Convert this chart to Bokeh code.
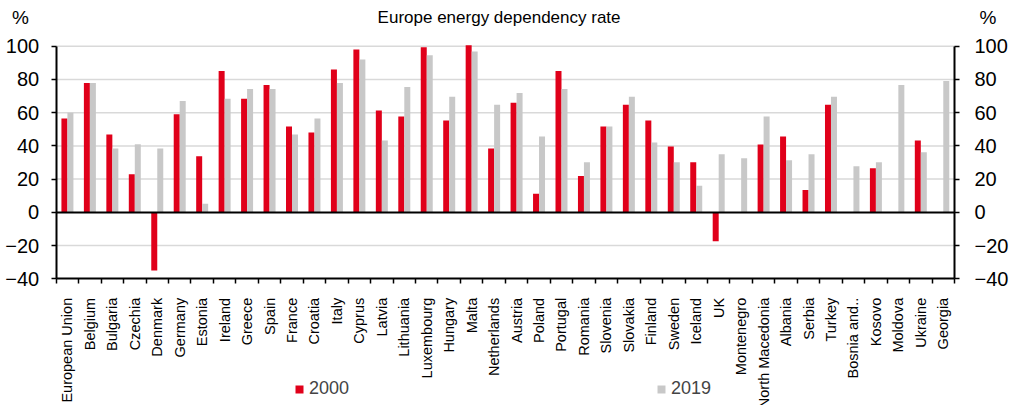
import math

from bokeh.embed import file_html
from bokeh.models import (ColumnDataSource, FixedTicker, Label, Legend,
                          LegendItem, LinearAxis, Range1d)
from bokeh.plotting import figure
from bokeh.resources import INLINE
from bokeh.transform import dodge

nan = float("nan")

countries = [
    "European Union", "Belgium", "Bulgaria", "Czechia", "Denmark", "Germany",
    "Estonia", "Ireland", "Greece", "Spain", "France", "Croatia", "Italy",
    "Cyprus", "Latvia", "Lithuania", "Luxembourg", "Hungary", "Malta",
    "Netherlands", "Austria", "Poland", "Portugal", "Romania", "Slovenia",
    "Slovakia", "Finland", "Sweden", "Iceland", "UK", "Montenegro",
    "North Macedonia", "Albania", "Serbia", "Turkey", "Bosnia and..",
    "Kosovo", "Moldova", "Ukraine", "Georgia",
]

rate_2000 = [
    56.5, 77.8, 46.9, 23.0, -35.0, 59.0, 33.7, 85.0, 68.3, 76.6,
    51.7, 48.1, 86.0, 98.0, 61.3, 57.7, 99.4, 55.3, 100.6, 38.5,
    65.9, 11.2, 85.0, 21.8, 51.7, 64.7, 55.3, 39.7, 30.1, -17.4,
    nan, 40.9, 45.7, 13.4, 64.7, nan, 26.5, nan, 43.3, nan,
]

rate_2019 = [
    60.0, 77.8, 38.5, 41.0, 38.5, 67.0, 5.2, 68.3, 74.3, 74.3,
    46.9, 56.5, 77.8, 92.0, 43.3, 75.4, 94.6, 69.5, 96.8, 64.7,
    71.9, 45.7, 74.3, 30.1, 51.7, 69.5, 42.1, 30.1, 16.0, 34.9,
    32.5, 57.7, 31.3, 34.9, 69.5, 27.7, 30.1, 76.6, 36.1, 79.0,
]

y_ticks = [-40, -20, 0, 20, 40, 60, 80, 100]

RED = "#E0001A"
GREY = "#C8C8C8"
GRID = "#D9D9D9"
FONT = "Liberation Sans"

W, H = 1019, 405
# pixel box of the value area inside the canvas
BOX_L, BOX_R, BOX_T, BOX_B = 55.7, 954.0, 45.7, 278.3

n = len(countries)
x_lo, x_hi = -0.5, n - 0.5
y_lo, y_hi = y_ticks[0], y_ticks[-1]

# the frame fills the whole canvas; axes sit at fixed data locations
px_x = (BOX_R - BOX_L) / (x_hi - x_lo)
px_y = (BOX_B - BOX_T) / (y_hi - y_lo)
x_range = Range1d(x_lo - BOX_L / px_x, x_hi + (W - BOX_R) / px_x)
y_range = Range1d(y_lo - (H - BOX_B) / px_y, y_hi + BOX_T / px_y)

positions = list(range(n))
source = ColumnDataSource(dict(x=positions, y2000=rate_2000, y2019=rate_2019))

p = figure(
    width=W, height=H,
    output_backend="svg", toolbar_location=None,
    x_range=x_range, y_range=y_range,
    min_border=0, min_border_left=0, min_border_right=0,
    min_border_top=0, min_border_bottom=0,
)
p.outline_line_color = None
p.background_fill_color = "white"
p.border_fill_color = "white"
p.grid.visible = False

# horizontal grid lines across the value area only
grid_y = [t for t in y_ticks if t not in (0, y_lo)]
p.segment(x0=[x_lo] * len(grid_y), x1=[x_hi] * len(grid_y), y0=grid_y, y1=grid_y,
          line_color=GRID, line_width=1.5, level="underlay")

bar_w = 0.267
r2000 = p.vbar(x=dodge("x", -bar_w / 2), top="y2000", bottom=0, width=bar_w,
               source=source, fill_color=RED, line_color=None)
r2019 = p.vbar(x=dodge("x", bar_w / 2), top="y2019", bottom=0, width=bar_w,
               source=source, fill_color=GREY, line_color=None)

# x axis: labels centred on each country, ticks between countries
xa = p.xaxis[0]
xa.fixed_location = y_lo
xa.bounds = (x_lo, x_hi)
xa.ticker = FixedTicker(ticks=positions, minor_ticks=[i - 0.5 for i in range(n + 1)])
xa.major_label_overrides = {i: c for i, c in enumerate(countries)}
xa.major_label_orientation = math.pi / 2
xa.major_label_text_font = FONT
xa.major_label_text_font_size = "14.5px"
xa.major_label_text_color = "black"
xa.major_label_standoff = 14
xa.major_tick_out = 0
xa.major_tick_in = 0
xa.minor_tick_out = 5
xa.minor_tick_in = 0
xa.minor_tick_line_color = "black"
xa.minor_tick_line_width = 1.5
xa.axis_line_color = "black"
xa.axis_line_width = 2

# zero line
zero_axis = LinearAxis(fixed_location=0, bounds=(x_lo, x_hi),
                       ticker=FixedTicker(ticks=[]),
                       major_tick_line_color=None, minor_tick_line_color=None,
                       major_label_text_font_size="0px",
                       axis_line_color="black", axis_line_width=2)
p.add_layout(zero_axis, "below")


def style_y(ax, loc, standoff):
    ax.fixed_location = loc
    ax.bounds = (y_lo, y_hi)
    ax.ticker = FixedTicker(ticks=y_ticks)
    ax.major_label_text_font = FONT
    ax.major_label_text_font_size = "20px"
    ax.major_label_text_color = "black"
    ax.major_label_standoff = standoff
    ax.major_tick_out = 5
    ax.major_tick_in = 0
    ax.major_tick_line_color = "black"
    ax.major_tick_line_width = 1.5
    ax.minor_tick_line_color = None
    ax.axis_line_color = "black"
    ax.axis_line_width = 2


style_y(p.yaxis[0], x_lo, 12)
right_axis = LinearAxis()
style_y(right_axis, x_hi, 15)
p.add_layout(right_axis, "right")

# title and unit markers
title_y = y_hi + (BOX_T - 17) / px_y
p.add_layout(Label(x=19.22, y=title_y, text="Europe energy dependency rate",
                   text_align="center", text_baseline="middle",
                   text_font=FONT, text_font_size="17px", text_color="black"))
p.add_layout(Label(x=-2.09, y=title_y, text="%", text_align="center",
                   text_baseline="middle", text_font=FONT,
                   text_font_size="19px", text_color="black"))
p.add_layout(Label(x=40.99, y=title_y, text="%", text_align="center",
                   text_baseline="middle", text_font=FONT,
                   text_font_size="19px", text_color="black"))

legend = Legend(
    items=[LegendItem(label="2000", renderers=[r2000]),
           LegendItem(label="2019", renderers=[r2019])],
    orientation="horizontal", location=(294, 6), spacing=307,
    glyph_width=10, glyph_height=10, label_standoff=5,
    padding=0, margin=0, border_line_color=None, background_fill_alpha=0,
    label_text_font=FONT, label_text_font_size="18px",
)
p.add_layout(legend, "center")

open("out.html", "w").write(file_html(p, INLINE))
